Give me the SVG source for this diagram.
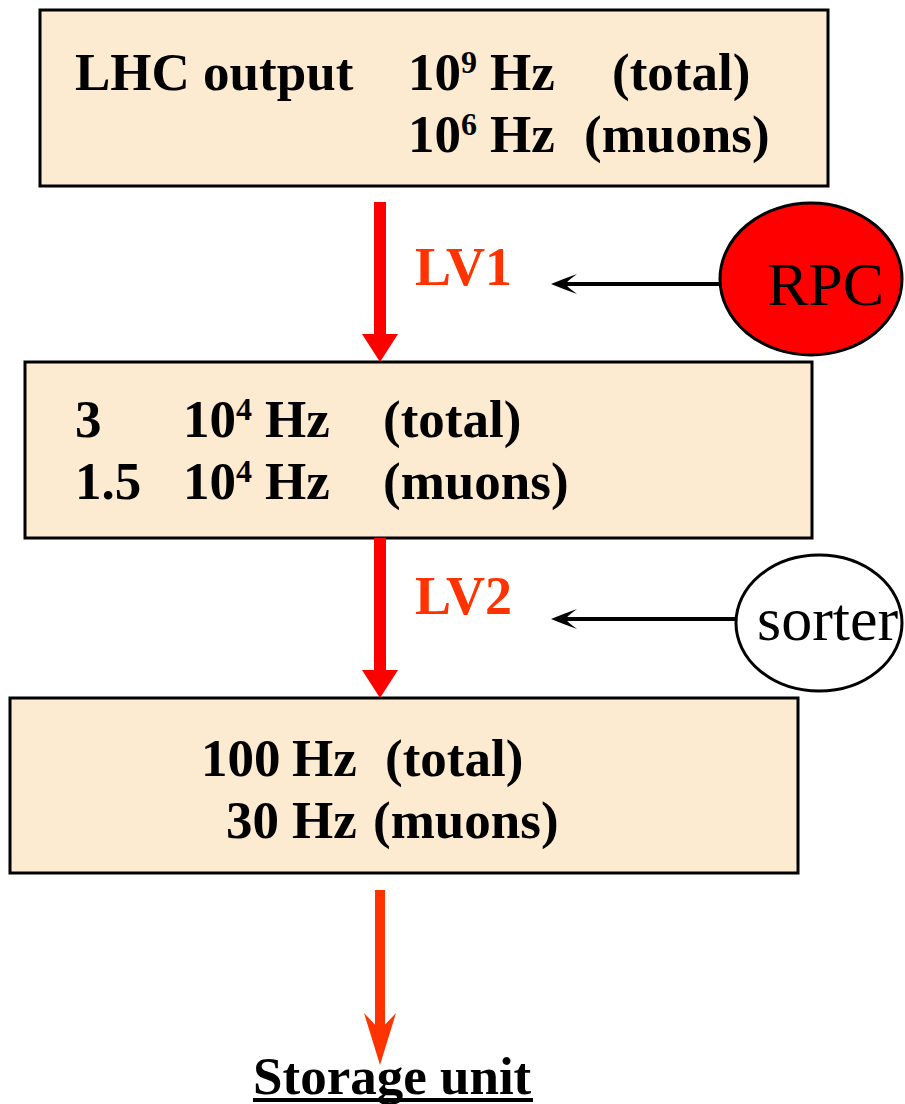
<svg xmlns="http://www.w3.org/2000/svg" width="905" height="1104" viewBox="0 0 905 1104">
  <style>
    .box { fill: #fcebd0; stroke: #000; stroke-width: 3; }
    .t { font-family: "Liberation Serif", "Times New Roman", serif; font-weight: bold; font-size: 53px; fill: #000; }
    .sup { font-size: 32px; }
    .lv { font-family: "Liberation Serif", "Times New Roman", serif; font-weight: bold; font-size: 54px; fill: #ff3300; }
    .lbl { font-family: "Liberation Serif", "Times New Roman", serif; font-size: 62px; fill: #000; }
    .shaft { stroke-width: 12; fill: none; }
    .feed { stroke: #000; stroke-width: 4; fill: none; }
  </style>
  <defs>
    <!-- barbed black arrowhead, tip at the origin, pointing left -->
    <path id="barb" d="M0,0 Q12,-5 26,-10 Q15,-2 15,0 Q15,2 26,10 Q12,5 0,0 Z" fill="#000"/>
  </defs>

  <!-- stage 1 -->
  <g id="lhc-output">
    <rect class="box" x="40" y="10" width="788" height="176"/>
    <text class="t" y="90"><tspan x="75">LHC output</tspan><tspan x="408">10</tspan><tspan class="sup" x="461" dy="-17">9</tspan><tspan x="490" dy="17">Hz</tspan><tspan x="612">(total)</tspan></text>
    <text class="t" y="152"><tspan x="408">10</tspan><tspan class="sup" x="461" dy="-17">6</tspan><tspan x="490" dy="17">Hz</tspan><tspan x="584">(muons)</tspan></text>
  </g>

  <!-- stage 2 -->
  <g id="after-lv1">
    <rect class="box" x="25" y="362" width="787" height="176"/>
    <text class="t" y="437"><tspan x="75">3</tspan><tspan x="183">10</tspan><tspan class="sup" x="236" dy="-17">4</tspan><tspan x="265" dy="17">Hz</tspan><tspan x="383">(total)</tspan></text>
    <text class="t" y="499"><tspan x="75">1.5</tspan><tspan x="183">10</tspan><tspan class="sup" x="236" dy="-17">4</tspan><tspan x="265" dy="17">Hz</tspan><tspan x="383">(muons)</tspan></text>
  </g>

  <!-- stage 3 -->
  <g id="after-lv2">
    <rect class="box" x="10" y="698" width="788" height="175"/>
    <text class="t" y="776"><tspan x="201">100</tspan><tspan x="292">Hz</tspan><tspan x="385">(total)</tspan></text>
    <text class="t" y="838"><tspan x="226">30</tspan><tspan x="292">Hz</tspan><tspan x="373">(muons)</tspan></text>
  </g>

  <!-- trigger sources -->
  <g id="rpc">
    <ellipse cx="811" cy="279" rx="91" ry="76" fill="#ff0000" stroke="#000" stroke-width="3"/>
    <text class="lbl" x="767" y="305">RPC</text>
  </g>
  <g id="sorter">
    <ellipse cx="819" cy="623" rx="83" ry="68" fill="#fff" stroke="#000" stroke-width="3"/>
    <text class="lbl" x="757" y="640">sorter</text>
  </g>

  <!-- storage -->
  <g id="storage">
    <text class="t" x="253" y="1094">Storage unit</text>
    <rect x="253" y="1098" width="280" height="4" fill="#000"/>
  </g>

  <!-- connectors -->
  <g id="connectors">
    <line class="shaft" x1="380" y1="202" x2="380" y2="336" stroke="#ff0000"/>
    <polygon points="362,334 398,334 380,362" fill="#ff0000"/>
    <text class="lv" x="415" y="285">LV1</text>

    <line class="shaft" x1="380" y1="538" x2="380" y2="672" stroke="#ff0000"/>
    <polygon points="362,670 398,670 380,698" fill="#ff0000"/>
    <text class="lv" x="415" y="614">LV2</text>

    <line x1="380" y1="890" x2="380" y2="1030" stroke="#ff3300" stroke-width="10"/>
    <polygon points="364,1013 380,1030 396,1013 380,1065" fill="#ff3300"/>

    <line class="feed" x1="720" y1="284" x2="566" y2="284"/>
    <use href="#barb" x="551" y="284"/>
    <line class="feed" x1="735" y1="619" x2="566" y2="619"/>
    <use href="#barb" x="551" y="619"/>
  </g>
</svg>
